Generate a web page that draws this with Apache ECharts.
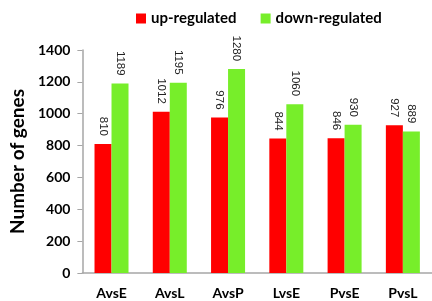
<!DOCTYPE html>
<html>
<head>
<meta charset="utf-8">
<script src="https://cdn.jsdelivr.net/npm/echarts@6/dist/echarts.min.js"></script>
<style>
  html, body { margin: 0; padding: 0; background: #fff; }
  #chart { width: 432px; height: 301px; }
</style>
</head>
<body>
<div id="chart"></div>
<script>
// data
var categories = ['AvsE', 'AvsL', 'AvsP', 'LvsE', 'PvsE', 'PvsL'];
var upRegulated = [810, 1012, 976, 844, 846, 927];
var downRegulated = [1189, 1195, 1280, 1060, 930, 889];
var yTicks = [0, 200, 400, 600, 800, 1000, 1200, 1400];

var font = 'Lato, "Open Sans", sans-serif';

var chart = echarts.init(document.getElementById('chart'));

// value labels sit above the bars, turned 90deg clockwise
var barLabel = {
  show: true,
  position: 'top',
  rotate: -90,
  align: 'right',
  verticalAlign: 'middle',
  distance: 8,
  fontFamily: '"Liberation Sans", Arial, sans-serif',
  fontSize: 11.5,
  color: '#222'
};

var option = {
  animation: false,
  legend: {
    top: 6,
    left: 131,
    itemWidth: 10,
    itemHeight: 10,
    itemGap: 24,
    icon: 'rect',
    textStyle: { fontFamily: font, fontWeight: 'bold', fontSize: 15, color: '#000' },
    data: ['up-regulated', 'down-regulated']
  },
  grid: { left: 79, top: 50, width: 361, bottom: 28 },
  xAxis: {
    type: 'category',
    data: categories,
    axisLine: { lineStyle: { color: '#a6a6a6', width: 1.5 } },
    axisTick: { show: false },
    axisLabel: { fontFamily: font, fontWeight: 'bold', fontSize: 14, color: '#000', margin: 13 }
  },
  yAxis: {
    type: 'value',
    min: yTicks[0],
    max: yTicks[yTicks.length - 1],
    interval: yTicks[1] - yTicks[0],
    name: 'Number of genes',
    nameLocation: 'middle',
    nameGap: 52,
    nameTextStyle: { fontFamily: font, fontWeight: 'bold', fontSize: 19, color: '#000' },
    axisLine: { show: true, lineStyle: { color: '#a6a6a6', width: 1.5 } },
    axisTick: { show: true, length: 5, lineStyle: { color: '#a6a6a6' } },
    splitLine: { show: false },
    axisLabel: {
      fontFamily: font, fontWeight: 'bold', fontSize: 14, color: '#000', margin: 12,
      formatter: function (v) { return String(v); }
    }
  },
  series: [
    {
      name: 'up-regulated',
      type: 'bar',
      data: upRegulated,
      barWidth: 17,
      barGap: '0%',
      itemStyle: { color: '#ff0000' },
      label: barLabel
    },
    {
      name: 'down-regulated',
      type: 'bar',
      data: downRegulated,
      barWidth: 17,
      itemStyle: { color: '#77ee2a' },
      label: barLabel
    }
  ]
};

chart.setOption(option);
</script>
</body>
</html>
